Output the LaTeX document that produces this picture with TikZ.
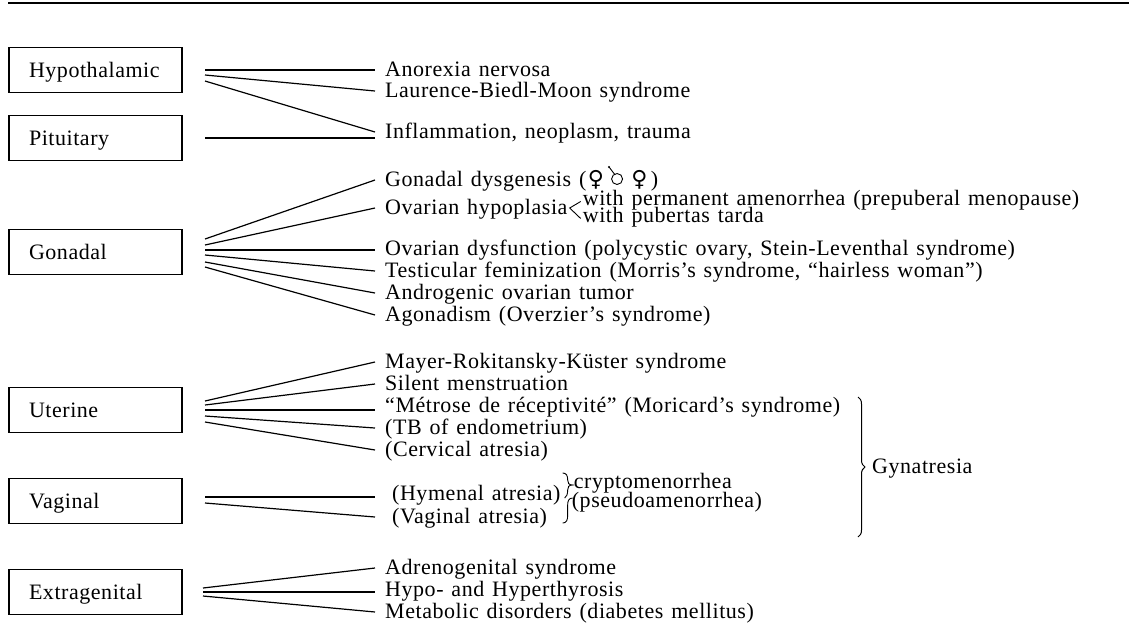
\documentclass[tikz,border=0pt]{standalone}
\usepackage{fontspec}
\setmainfont{Liberation Serif}[WordSpace=1.3, LetterSpace=2.5]
\newfontfamily\symfont{DejaVu Sans}
\usetikzlibrary{decorations.pathreplacing}

\begin{document}
\begin{tikzpicture}[x=1pt,y=-1pt,
  every node/.style={font=\fontsize{22}{26}\selectfont},
  catbox/.style={draw, line width=1.1pt, minimum width=173pt, minimum height=45pt,
    text width=133pt, inner xsep=20pt, inner ysep=0pt, align=left,
    text height=14pt, text depth=0pt},
  entry/.style={anchor=base west, inner xsep=10pt, inner ysep=0pt,
    text height=13pt, text depth=1pt},
  branch/.style={entry, inner xsep=2pt, text height=7pt, text depth=0pt},
  link/.style={line width=1.2pt},
  sym/.style={anchor=base west, inner sep=0pt, font=\fontsize{22}{26}\symfont}]

\useasboundingbox (0,0) rectangle (1129,633);

% head rule
\coordinate (ruleL) at (8,3);
\coordinate (ruleR) at (1129,3);
\draw[line width=1.8pt] (ruleL) -- (ruleR);

% categories
\node[catbox] (hyp) at (95.5,70)  {Hypothalamic};
\node[catbox] (pit) at (95.5,138) {Pituitary};
\node[catbox] (gon) at (95.5,252) {Gonadal};
\node[catbox] (ute) at (95.5,410) {Uterine};
\node[catbox] (vag) at (95.5,501) {Vaginal};
\node[catbox] (ext) at (95.5,592) {Extragenital};

% conditions
\node[entry] (anx) at (375,76)  {Anorexia nervosa};
\node[entry] (lbm) at (375,97)  {Laurence-Biedl-Moon syndrome};
\node[entry] (inf) at (375,138) {Inflammation, neoplasm, trauma};

\node[entry] (dys) at (375,186) {Gonadal dysgenesis (};
\node[entry] (hyo) at (375,214) {Ovarian hypoplasia};
\coordinate (hv) at ([xshift=-8pt]hyo.east);
\node[branch] (per) at ([xshift=11pt,yshift=3pt]hv) {with permanent amenorrhea (prepuberal menopause)};
\node[branch] (pub) at ([xshift=11pt,yshift=-14pt]hv) {with pubertas tarda};
\node[entry] (dfn) at (375,255) {Ovarian dysfunction (polycystic ovary, Stein-Leventhal syndrome)};
\node[entry] (tes) at (375,277) {Testicular feminization (Morris’s syndrome, “hairless woman”)};
\node[entry] (adn) at (375,299) {Androgenic ovarian tumor};
\node[entry] (ago) at (375,321) {Agonadism (Overzier’s syndrome)};

\node[entry] (may) at (375,368) {Mayer-Rokitansky-Küster syndrome};
\node[entry] (sil) at (375,390) {Silent menstruation};
\node[entry] (met) at (375,412) {“Métrose de réceptivité” (Moricard’s syndrome)};
\node[entry] (tbe) at (375,434) {(TB of endometrium)};
\node[entry] (cer) at (375,456) {(Cervical atresia)};

\node[entry, inner xsep=17pt] (hym) at (375,500) {(Hymenal atresia)};
\node[entry, inner xsep=17pt] (vga) at (375,523) {(Vaginal atresia)};
\coordinate (sb) at ([xshift=-15pt]hym.base east);
\node[entry, inner xsep=0pt] (cry) at ([xshift=11pt,yshift=12pt]sb) {cryptomenorrhea};
\node[entry, inner xsep=0pt] (pse) at ([xshift=9pt,yshift=-7pt]sb) {(pseudoamenorrhea)};
\node[entry, inner xsep=0pt] (gyn) at (872,473) {Gynatresia};

\node[entry] (adr) at (375,574) {Adrenogenital syndrome};
\node[entry] (thy) at (375,596) {Hypo- and Hyperthyrosis};
\node[entry] (mdi) at (375,618) {Metabolic disorders (diabetes mellitus)};

% sex symbols after "Gonadal dysgenesis ("
\node[sym] (fa) at ([xshift=-9pt]dys.base east) {♀};
\node[sym] (fb) at ([xshift=27pt]fa.base east) {♀};
\node[anchor=base west, inner sep=0pt] (cp) at ([xshift=3pt]fb.base east) {)};
\coordinate (gm) at ([xshift=13pt,yshift=7pt]fa.base east);
\draw[line width=0.9pt] (gm) circle (5.5pt);
\coordinate (gtick) at ([shift={(118:5.5pt)}]gm);
\coordinate (gdot) at ([xshift=-8pt,yshift=12pt]gm);
\draw[line width=0.9pt] (gtick) -- (gdot);
\fill (gdot) circle (1.1pt);

% fan start points
\foreach \n/\y in {h1/70,h2/75,h3/81,p1/138,
                   g1/239,g2/245,g3/250,g4/255,g5/262,g6/267,
                   u1/401,u2/405,u3/410,u4/416,u5/422,
                   v1/497,v2/503}
  \coordinate (\n) at (205,\y);
\foreach \n/\y in {e1/588,e2/592,e3/596}
  \coordinate (\n) at (203,\y);

% hypothalamic / pituitary
\draw[link] (h1) -- (anx.west);
\draw[link] (h2) -- (lbm.west);
\draw[link] (h3) -- (inf.west);
\draw[link] (p1) -- (p1 -| inf.west);

% gonadal
\draw[link] (g1) -- (dys.west);
\draw[link] (g2) -- (hyo.west);
\draw[link] (g3) -- (g3 -| dfn.west);
\draw[link] (g4) -- (tes.west);
\draw[link] (g5) -- (adn.west);
\draw[link] (g6) -- (ago.west);

% ovarian hypoplasia fork
\draw[line width=0.9pt] (per.west) -- (hv) -- (pub.west);

% uterine
\draw[link] (u1) -- (may.west);
\draw[link] (u2) -- (sil.west);
\draw[link] (u3) -- (u3 -| met.west);
\draw[link] (u4) -- (tbe.west);
\draw[link] (u5) -- (cer.west);

% vaginal
\draw[link] (v1) -- (v1 -| hym.west);
\draw[link] (v2) -- (vga.west);

% extragenital
\draw[link] (e1) -- (adr.west);
\draw[link] (e2) -- (e2 -| thy.west);
\draw[link] (e3) -- (mdi.west);

% small braces between the atresias and their consequences
\draw[line width=0.9pt]
  ([yshift=27pt]sb) .. controls ([xshift=4pt,yshift=27pt]sb) and ([xshift=5pt,yshift=24pt]sb) .. ([xshift=5pt,yshift=20pt]sb)
  .. controls ([xshift=5pt,yshift=17pt]sb) and ([xshift=6pt,yshift=15pt]sb) .. ([xshift=10pt,yshift=15pt]sb)
  .. controls ([xshift=6pt,yshift=15pt]sb) and ([xshift=5pt,yshift=13pt]sb) .. ([xshift=5pt,yshift=10pt]sb)
  .. controls ([xshift=5pt,yshift=6pt]sb) and ([xshift=4pt,yshift=3pt]sb) .. ([xshift=2pt,yshift=2pt]sb);
\draw[line width=0.9pt]
  ([xshift=10pt,yshift=2pt]sb) .. controls ([xshift=6pt,yshift=2pt]sb) and ([xshift=5pt,yshift=-1pt]sb) .. ([xshift=5pt,yshift=-5pt]sb)
  -- ([xshift=5pt,yshift=-15pt]sb) .. controls ([xshift=5pt,yshift=-20pt]sb) and ([xshift=4pt,yshift=-23pt]sb) .. ([yshift=-23pt]sb);

% gynatresia brace
\coordinate (gbt) at (858,397);
\coordinate (gbb) at (858,537);
\draw[line width=1pt, decorate, decoration={brace, amplitude=7pt}] (gbt) -- (gbb);
\end{tikzpicture}
\end{document}
